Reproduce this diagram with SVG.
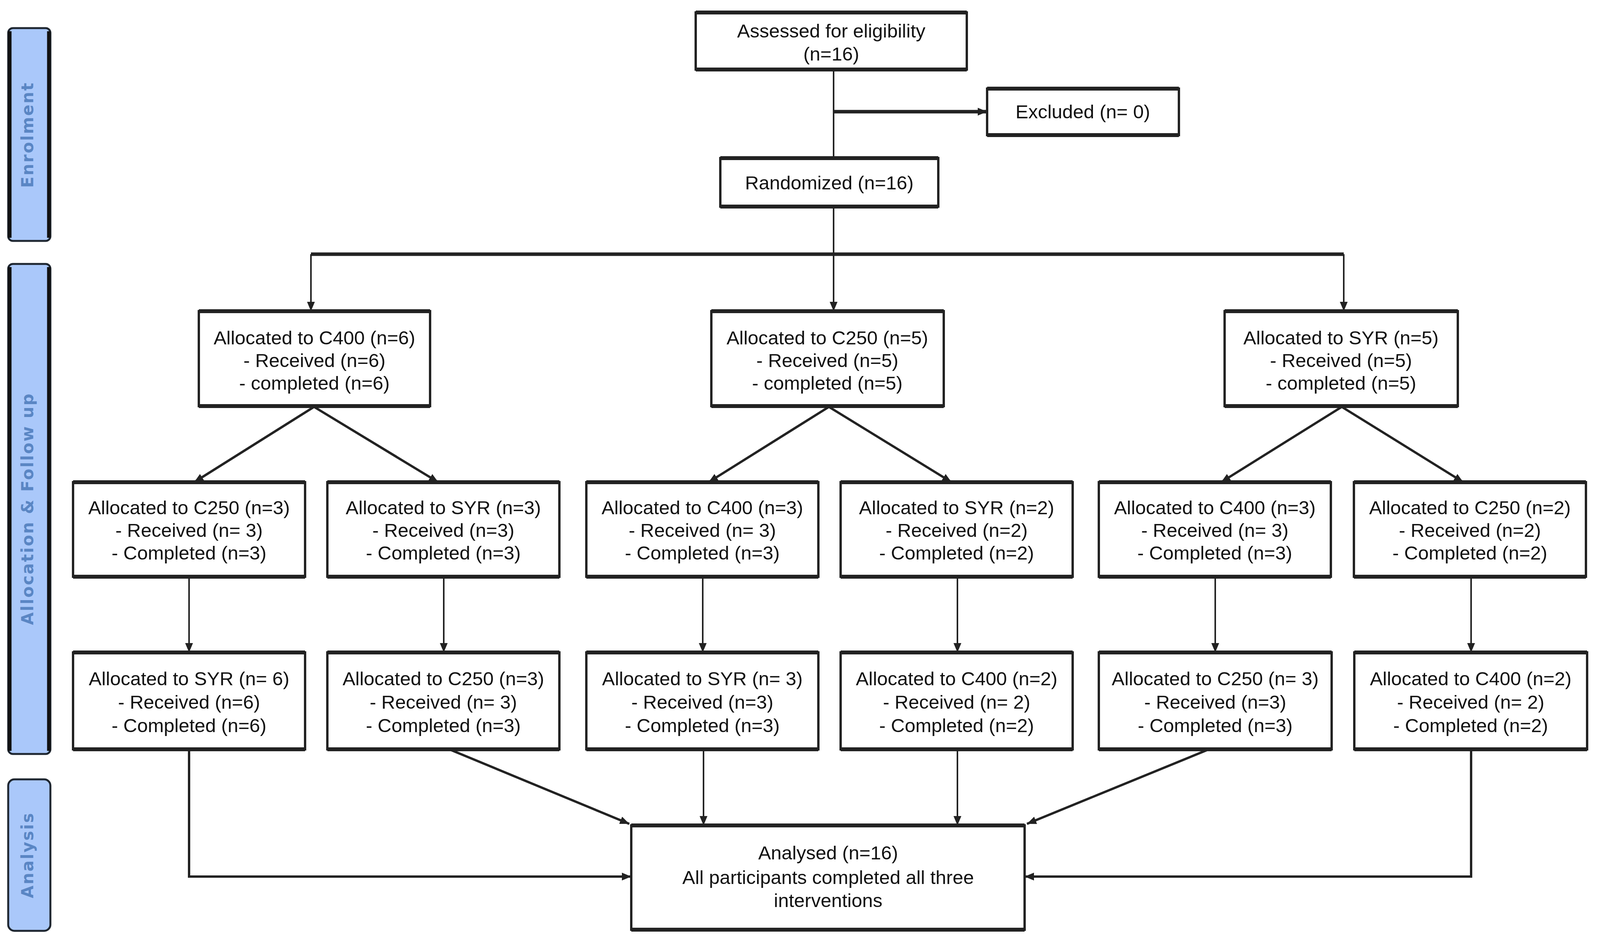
<svg xmlns="http://www.w3.org/2000/svg" width="4234" height="2410" viewBox="0 0 4234 2410">
<defs>
<style>
.box{fill:#fff;stroke:#222;stroke-width:6}
.bar{fill:none;stroke:#222;stroke-width:10}
.t{font-family:"Liberation Sans",Arial,sans-serif;font-size:49px;fill:#111;text-anchor:middle}
.side{fill:#aac8fa;stroke:#1e2630;stroke-width:5}
.sbar{fill:none;stroke:#111;stroke-width:9}
.st{font-family:"DejaVu Sans",Verdana,sans-serif;font-size:42px;font-weight:bold;fill:#5a86c4;text-anchor:middle;letter-spacing:3px}
.c{fill:none;stroke:#222;stroke-linecap:butt}
.thin{stroke-width:4}
.mid{stroke-width:6}
.thick{stroke-width:9}
</style>
<marker id="ah" markerUnits="userSpaceOnUse" markerWidth="24" markerHeight="20" refX="24" refY="10" orient="auto">
<path d="M0,0 L24,10 L0,20 z" fill="#222"/>
</marker>
</defs>
<rect width="4234" height="2410" fill="#fff"/>

<g id="side-enrolment">
<rect class="side" x="21" y="72" width="108" height="545" rx="12"/>
<path class="sbar" d="M25,80 V609 M125,80 V609"/>
<text class="st" transform="translate(85,345) rotate(-90)">Enrolment</text>
</g>
<g id="side-allocation">
<rect class="side" x="21" y="676" width="108" height="1255" rx="12"/>
<path class="sbar" d="M25,684 V1923 M125,684 V1923"/>
<text class="st" transform="translate(85,1303) rotate(-90)">Allocation &amp; Follow up</text>
</g>
<g id="side-analysis">
<rect class="side" x="21" y="1996" width="108" height="388" rx="16"/>
<text class="st" transform="translate(85,2190) rotate(-90)">Analysis</text>
</g>

<g id="connectors">
<path class="c thin" d="M2134,178 V405"/>
<path class="c thick" d="M2134,286 H2527" marker-end="url(#ah)"/>
<path class="c thin" d="M2134,529 V651"/>
<path class="c thick" d="M796,651 H3440"/>
<path class="c thin" d="M796,651 V797" marker-end="url(#ah)"/>
<path class="c thin" d="M2134,651 V797" marker-end="url(#ah)"/>
<path class="c thin" d="M3440,651 V797" marker-end="url(#ah)"/>
<path class="c mid" d="M804,1042 L497,1235" marker-end="url(#ah)"/>
<path class="c mid" d="M804,1042 L1122,1235" marker-end="url(#ah)"/>
<path class="c mid" d="M2122,1042 L1814,1235" marker-end="url(#ah)"/>
<path class="c mid" d="M2122,1042 L2436,1235" marker-end="url(#ah)"/>
<path class="c mid" d="M3435,1042 L3126,1235" marker-end="url(#ah)"/>
<path class="c mid" d="M3435,1042 L3746,1235" marker-end="url(#ah)"/>
<path class="c thin" d="M484,1477 V1671" marker-end="url(#ah)"/>
<path class="c thin" d="M1136,1477 V1671" marker-end="url(#ah)"/>
<path class="c thin" d="M1799,1477 V1671" marker-end="url(#ah)"/>
<path class="c thin" d="M2451,1477 V1671" marker-end="url(#ah)"/>
<path class="c thin" d="M3111,1477 V1671" marker-end="url(#ah)"/>
<path class="c thin" d="M3766,1477 V1671" marker-end="url(#ah)"/>
<path class="c mid" d="M484,1919 V2245 H1616" marker-end="url(#ah)"/>
<path class="c mid" d="M1150,1919 L1611,2110" marker-end="url(#ah)"/>
<path class="c thin" d="M1801,1919 V2114" marker-end="url(#ah)"/>
<path class="c thin" d="M2451,1919 V2114" marker-end="url(#ah)"/>
<path class="c mid" d="M3095,1919 L2629,2110" marker-end="url(#ah)"/>
<path class="c mid" d="M3766,1919 V2245 H2623" marker-end="url(#ah)"/>
</g>

<g id="assessed">
<rect class="box" x="1781" y="32" width="694" height="146"/>
<path class="bar" d="M1781,32 h694 M1781,178 h694"/>
<text class="t" x="2128" y="96">Assessed for eligibility</text>
<text class="t" x="2128" y="155">(n=16)</text>
</g>
<g id="excluded">
<rect class="box" x="2527" y="227" width="491" height="119"/>
<path class="bar" d="M2527,227 h491 M2527,346 h491"/>
<text class="t" x="2772" y="303">Excluded (n= 0)</text>
</g>
<g id="randomized">
<rect class="box" x="1844" y="405" width="558" height="124"/>
<path class="bar" d="M1844,405 h558 M1844,529 h558"/>
<text class="t" x="2123" y="485">Randomized (n=16)</text>
</g>

<g id="l1-c400">
<rect class="box" x="509" y="797" width="592" height="243"/>
<path class="bar" d="M509,797 h592 M509,1040 h592"/>
<text class="t" x="805" y="882">Allocated to C400 (n=6)</text>
<text class="t" x="805" y="940">- Received (n=6)</text>
<text class="t" x="805" y="998">- completed (n=6)</text>
</g>
<g id="l1-c250">
<rect class="box" x="1821" y="797" width="595" height="243"/>
<path class="bar" d="M1821,797 h595 M1821,1040 h595"/>
<text class="t" x="2118" y="882">Allocated to C250 (n=5)</text>
<text class="t" x="2118" y="940">- Received (n=5)</text>
<text class="t" x="2118" y="998">- completed (n=5)</text>
</g>
<g id="l1-syr">
<rect class="box" x="3135" y="797" width="597" height="243"/>
<path class="bar" d="M3135,797 h597 M3135,1040 h597"/>
<text class="t" x="3433" y="882">Allocated to SYR (n=5)</text>
<text class="t" x="3433" y="940">- Received (n=5)</text>
<text class="t" x="3433" y="998">- completed (n=5)</text>
</g>

<g id="l2-1">
<rect class="box" x="187" y="1235" width="594" height="242"/>
<path class="bar" d="M187,1235 h594 M187,1477 h594"/>
<text class="t" x="484" y="1317">Allocated to C250 (n=3)</text>
<text class="t" x="484" y="1375">- Received (n= 3)</text>
<text class="t" x="484" y="1433">- Completed (n=3)</text>
</g>
<g id="l2-2">
<rect class="box" x="838" y="1235" width="594" height="242"/>
<path class="bar" d="M838,1235 h594 M838,1477 h594"/>
<text class="t" x="1135" y="1317">Allocated to SYR (n=3)</text>
<text class="t" x="1135" y="1375">- Received (n=3)</text>
<text class="t" x="1135" y="1433">- Completed (n=3)</text>
</g>
<g id="l2-3">
<rect class="box" x="1501" y="1235" width="594" height="242"/>
<path class="bar" d="M1501,1235 h594 M1501,1477 h594"/>
<text class="t" x="1798" y="1317">Allocated to C400 (n=3)</text>
<text class="t" x="1798" y="1375">- Received (n= 3)</text>
<text class="t" x="1798" y="1433">- Completed (n=3)</text>
</g>
<g id="l2-4">
<rect class="box" x="2152" y="1235" width="594" height="242"/>
<path class="bar" d="M2152,1235 h594 M2152,1477 h594"/>
<text class="t" x="2449" y="1317">Allocated to SYR (n=2)</text>
<text class="t" x="2449" y="1375">- Received (n=2)</text>
<text class="t" x="2449" y="1433">- Completed (n=2)</text>
</g>
<g id="l2-5">
<rect class="box" x="2813" y="1235" width="594" height="242"/>
<path class="bar" d="M2813,1235 h594 M2813,1477 h594"/>
<text class="t" x="3110" y="1317">Allocated to C400 (n=3)</text>
<text class="t" x="3110" y="1375">- Received (n= 3)</text>
<text class="t" x="3110" y="1433">- Completed (n=3)</text>
</g>
<g id="l2-6">
<rect class="box" x="3466" y="1235" width="594" height="242"/>
<path class="bar" d="M3466,1235 h594 M3466,1477 h594"/>
<text class="t" x="3763" y="1317">Allocated to C250 (n=2)</text>
<text class="t" x="3763" y="1375">- Received (n=2)</text>
<text class="t" x="3763" y="1433">- Completed (n=2)</text>
</g>

<g id="l3-1">
<rect class="box" x="187" y="1671" width="594" height="248"/>
<path class="bar" d="M187,1671 h594 M187,1919 h594"/>
<text class="t" x="484" y="1755">Allocated to SYR (n= 6)</text>
<text class="t" x="484" y="1815">- Received (n=6)</text>
<text class="t" x="484" y="1875">- Completed (n=6)</text>
</g>
<g id="l3-2">
<rect class="box" x="838" y="1671" width="594" height="248"/>
<path class="bar" d="M838,1671 h594 M838,1919 h594"/>
<text class="t" x="1135" y="1755">Allocated to C250 (n=3)</text>
<text class="t" x="1135" y="1815">- Received (n= 3)</text>
<text class="t" x="1135" y="1875">- Completed (n=3)</text>
</g>
<g id="l3-3">
<rect class="box" x="1501" y="1671" width="594" height="248"/>
<path class="bar" d="M1501,1671 h594 M1501,1919 h594"/>
<text class="t" x="1798" y="1755">Allocated to SYR (n= 3)</text>
<text class="t" x="1798" y="1815">- Received (n=3)</text>
<text class="t" x="1798" y="1875">- Completed (n=3)</text>
</g>
<g id="l3-4">
<rect class="box" x="2152" y="1671" width="594" height="248"/>
<path class="bar" d="M2152,1671 h594 M2152,1919 h594"/>
<text class="t" x="2449" y="1755">Allocated to C400 (n=2)</text>
<text class="t" x="2449" y="1815">- Received (n= 2)</text>
<text class="t" x="2449" y="1875">- Completed (n=2)</text>
</g>
<g id="l3-5">
<rect class="box" x="2813" y="1671" width="596" height="248"/>
<path class="bar" d="M2813,1671 h596 M2813,1919 h596"/>
<text class="t" x="3111" y="1755">Allocated to C250 (n= 3)</text>
<text class="t" x="3111" y="1815">- Received (n=3)</text>
<text class="t" x="3111" y="1875">- Completed (n=3)</text>
</g>
<g id="l3-6">
<rect class="box" x="3467" y="1671" width="596" height="248"/>
<path class="bar" d="M3467,1671 h596 M3467,1919 h596"/>
<text class="t" x="3765" y="1755">Allocated to C400 (n=2)</text>
<text class="t" x="3765" y="1815">- Received (n= 2)</text>
<text class="t" x="3765" y="1875">- Completed (n=2)</text>
</g>

<g id="analysed">
<rect class="box" x="1616" y="2114" width="1007" height="267"/>
<path class="bar" d="M1616,2114 h1007 M1616,2381 h1007"/>
<text class="t" x="2120" y="2201">Analysed (n=16)</text>
<text class="t" x="2120" y="2264">All participants completed all three</text>
<text class="t" x="2120" y="2323">interventions</text>
</g>
</svg>
